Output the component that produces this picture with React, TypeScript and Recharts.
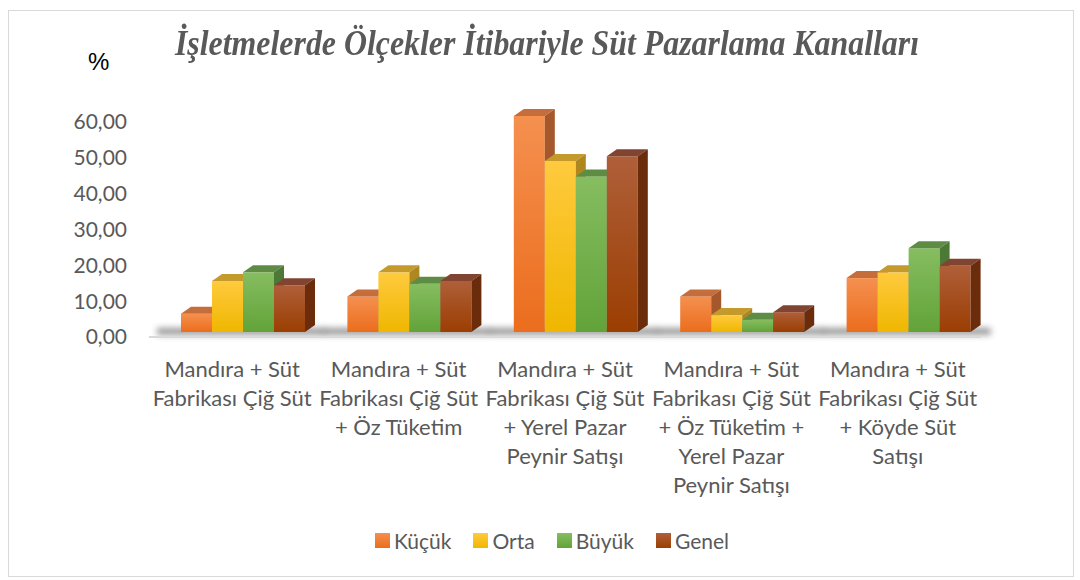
import { Bar, BarChart, Legend, XAxis, YAxis } from 'recharts';

const CATEGORIES = [
  'Mandıra + Süt\nFabrikası Çiğ Süt',
  'Mandıra + Süt\nFabrikası Çiğ Süt\n+ Öz Tüketim',
  'Mandıra + Süt\nFabrikası Çiğ Süt\n+ Yerel Pazar\nPeynir Satışı',
  'Mandıra + Süt\nFabrikası Çiğ Süt\n+ Öz Tüketim +\nYerel Pazar\nPeynir Satışı',
  'Mandıra + Süt\nFabrikası Çiğ Süt\n+ Köyde Süt\nSatışı',
];

const KUCUK = [5.1, 9.9, 60.1, 9.9, 15.0];
const ORTA = [14.2, 16.6, 47.6, 4.7, 16.6];
const BUYUK = [16.6, 13.4, 43.3, 3.4, 23.3];
const GENEL = [13.0, 14.2, 48.9, 5.5, 18.4];

const Y_TICKS = [0, 10, 20, 30, 40, 50, 60];

const SERIES = [
  { key: 'kucuk', name: 'Küçük', top: '#F5904F', bottom: '#EB6D1D', cap: '#C56D3B', side: '#A5582B' },
  { key: 'orta', name: 'Orta', top: '#FFCA3E', bottom: '#EFB700', cap: '#C59A2C', side: '#AE8720' },
  { key: 'buyuk', name: 'Büyük', top: '#86BD60', bottom: '#62A339', cap: '#5F8C45', side: '#4D7937' },
  { key: 'genel', name: 'Genel', top: '#AF5F39', bottom: '#9B3E02', cap: '#804431', side: '#6A2C0A' },
];

const data = CATEGORIES.map((c, i) => ({
  name: c,
  kucuk: KUCUK[i],
  orta: ORTA[i],
  buyuk: BUYUK[i],
  genel: GENEL[i],
}));

const DX = 10;
const DY = 7;
const TEXT = '#595959';
const FONT = 'Lato, "Open Sans", sans-serif';

function Bar3D(props: any) {
  const { x, y, width, height, s } = props;
  const sx = x + 10;
  const top = y - 5;
  const bottom = y + height - 5;
  const cfg = SERIES[s];
  return (
    <g>
      {s === 0 && (
        <rect
          x={sx - 24}
          y={bottom - 4}
          width={width * 4 + DX + 34}
          height={7}
          fill="#444"
          opacity={0.55}
          filter="url(#floorBlur)"
        />
      )}
      <rect x={sx} y={top} width={width} height={bottom - top} fill={`url(#grad-${s})`} />
      <polygon
        points={`${sx},${top} ${sx + width},${top} ${sx + width + DX},${top - DY} ${sx + DX},${top - DY}`}
        fill={cfg.cap}
      />
      <polygon
        points={`${sx + width},${top} ${sx + width + DX},${top - DY} ${sx + width + DX},${bottom - DY} ${sx + width},${bottom}`}
        fill={cfg.side}
      />
    </g>
  );
}

function CategoryTick(props: any) {
  const { x, y, payload } = props;
  const lines = String(payload.value).split('\n');
  return (
    <text x={x} y={y} textAnchor="middle" fill={TEXT} fontSize={22} fontFamily={FONT}>
      {lines.map((l, i) => (
        <tspan key={i} x={x} dy={i === 0 ? 38 : 29}>
          {l}
        </tspan>
      ))}
    </text>
  );
}

function LegendContent() {
  return (
    <div
      style={{
        display: 'flex',
        justifyContent: 'center',
        gap: 22,
        fontFamily: FONT,
        fontSize: 21,
        color: TEXT,
        paddingLeft: 24,
      }}
    >
      {SERIES.map((s) => (
        <div key={s.key} style={{ display: 'flex', alignItems: 'center' }}>
          <span
            style={{
              display: 'inline-block',
              width: 15,
              height: 15,
              marginRight: 4,
              background: `linear-gradient(${s.top}, ${s.bottom})`,
            }}
          />
          {s.name}
        </div>
      ))}
    </div>
  );
}

export default function App() {
  return (
    <div style={{ position: 'absolute', left: 0, top: 0, width: 1080, height: 580, background: '#fff' }}>
      <div
        style={{
          position: 'absolute',
          left: 8,
          top: 10,
          width: 1066,
          height: 567,
          border: '1px solid #d9d9d9',
          boxSizing: 'border-box',
        }}
      />
      <div
        style={{
          position: 'absolute',
          left: 0,
          width: 1094,
          top: 24,
          textAlign: 'center',
          fontFamily: '"Liberation Serif", "Times New Roman", serif',
          fontStyle: 'italic',
          fontWeight: 'bold',
          fontSize: 35,
          color: TEXT,
          transform: 'scaleX(0.91)',
        }}
      >
        İşletmelerde Ölçekler İtibariyle Süt Pazarlama Kanalları
      </div>
      <div
        style={{
          position: 'absolute',
          left: 88,
          top: 48,
          fontFamily: '"Liberation Sans", Arial, sans-serif',
          fontSize: 24,
          color: '#000',
        }}
      >
        %
      </div>
      <BarChart
        width={1080}
        height={580}
        data={data}
        margin={{ top: 121, right: 99, bottom: 68, left: 0 }}
        barCategoryGap={22}
        barGap={0}
        style={{ position: 'absolute', left: 0, top: 0 }}
      >
        <defs>
          {SERIES.map((s, i) => (
            <linearGradient key={s.key} id={`grad-${i}`} x1="0" y1="0" x2="0" y2="1">
              <stop offset="0%" stopColor={s.top} />
              <stop offset="100%" stopColor={s.bottom} />
            </linearGradient>
          ))}
          <filter id="floorBlur" x="-20%" y="-200%" width="140%" height="500%">
            <feGaussianBlur stdDeviation="3" />
          </filter>
        </defs>
        <XAxis
          dataKey="name"
          interval={0}
          height={150}
          tickLine={false}
          tickSize={0}
          axisLine={{ stroke: '#d9d9d9', strokeWidth: 2 }}
          tick={<CategoryTick />}
        />
        <YAxis
          width={149}
          domain={[0, 60]}
          ticks={Y_TICKS}
          tickFormatter={(v: number) => v.toFixed(2).replace('.', ',')}
          axisLine={false}
          tickLine={false}
          tickSize={0}
          tickMargin={22}
          tick={{ fill: TEXT, fontSize: 21, fontFamily: FONT }}
        />
        <Legend
          content={<LegendContent />}
          wrapperStyle={{ position: 'absolute', top: 528, left: 0, width: 1080, bottom: 'auto' }}
        />
        {SERIES.map((s, i) => (
          <Bar
            key={s.key}
            dataKey={s.key}
            name={s.name}
            fill={s.bottom}
            isAnimationActive={false}
            shape={(p: any) => <Bar3D {...p} s={i} />}
          />
        ))}
      </BarChart>
    </div>
  );
}
